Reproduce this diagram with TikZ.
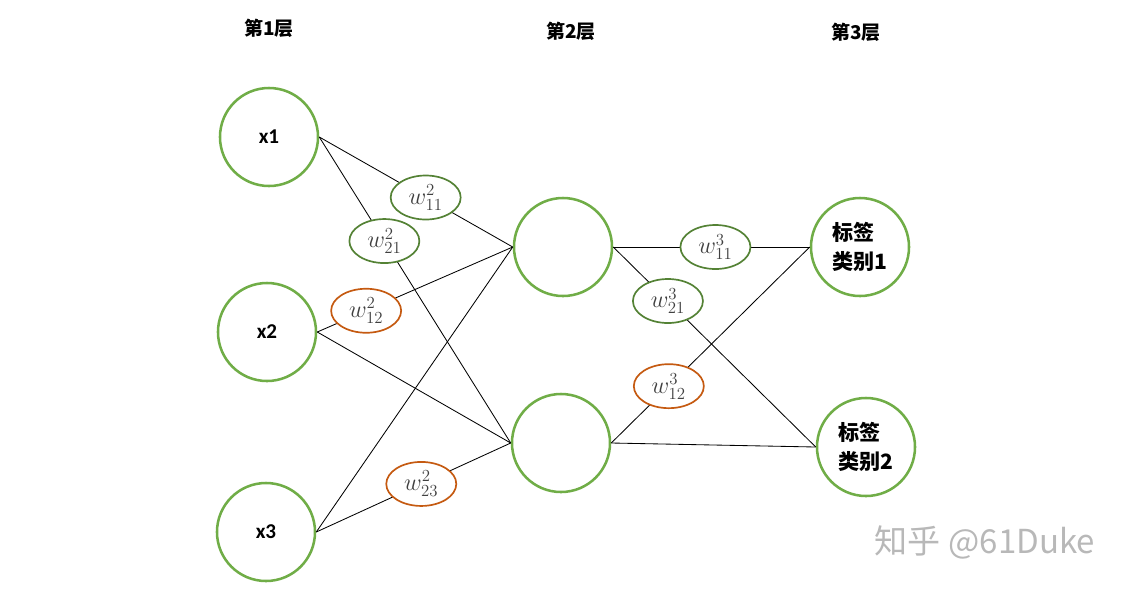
\documentclass[tikz,border=0pt]{standalone}
\usepackage{fontspec}
\setmainfont{Carlito}
\newfontfamily\cjk{Noto Sans CJK SC}
\usetikzlibrary{shapes.geometric}
\definecolor{unitgreen}{RGB}{112,173,71}
\definecolor{wgtgreen}{RGB}{84,130,53}
\definecolor{wgtorange}{RGB}{197,90,17}

\begin{document}
\begin{tikzpicture}[x=0.025cm, y=-0.025cm,
	unit/.style={circle, draw=unitgreen, line width=1.8pt, minimum size=2.45cm, inner sep=0pt, font=\fontsize{15}{21}\selectfont\bfseries},
	tag/.style={unit, align=left, font=\cjk\fontsize{15}{21}\selectfont\bfseries},
	wgt/.style={ellipse, draw=wgtgreen, line width=1.2pt, fill=white, minimum width=1.75cm, minimum height=1.1cm, inner sep=0pt, text=black!75, font=\LARGE},
	wgto/.style={wgt, draw=wgtorange},
	layer/.style={font=\cjk\fontsize{13.5}{16}\selectfont\bfseries},
	link/.style={line width=0.6pt}]
	\useasboundingbox (0,0) rectangle (1126,588);
	
	\node[layer] (l1) at (269,28) {第1层};
	\node[layer] (l2) at (571,31) {第2层};
	\node[layer] (l3) at (856,32) {第3层};
	
	\node[unit] (x1) at (269,137) {x1};
	\node[unit] (x2) at (267,332) {x2};
	\node[unit] (x3) at (266,532) {x3};
	\node[unit] (h1) at (563,247) {};
	\node[unit] (h2) at (561,443) {};
	\node[tag] (y1) at (860,247) {标签\\类别1};
	\node[tag] (y2) at (866,447) {标签\\类别2};
	
	\draw[link] (x1.east) -- node[wgt, pos=0.55] (w211) {$w^2_{11}$} (h1.west);
	\draw[link] (x1.east) -- node[wgt, pos=0.34] (w221) {$w^2_{21}$} (h2.west);
	\draw[link] (x2.east) -- node[wgto, pos=0.25] (w212) {$w^2_{12}$} (h1.west);
	\draw[link] (x2.east) -- (h2.west);
	\draw[link] (x3.east) -- (h1.west);
	\draw[link] (x3.east) -- node[wgto, pos=0.54] (w223) {$w^2_{23}$} (h2.west);
	
	\draw[link] (h1.east) -- node[wgt, pos=0.52] (w311) {$w^3_{11}$} (y1.west);
	\draw[link] (h1.east) -- node[wgt, pos=0.27] (w321) {$w^3_{21}$} (y2.west);
	\draw[link] (h2.east) -- node[wgto, pos=0.29] (w312) {$w^3_{12}$} (y1.west);
	\draw[link] (h2.east) -- (y2.west);
	
	\node[text=black!28, font=\cjk\fontsize{23.5}{28}\selectfont] (mark) at (985,542) {知乎 @61Duke};
	
\end{tikzpicture}
\end{document}
